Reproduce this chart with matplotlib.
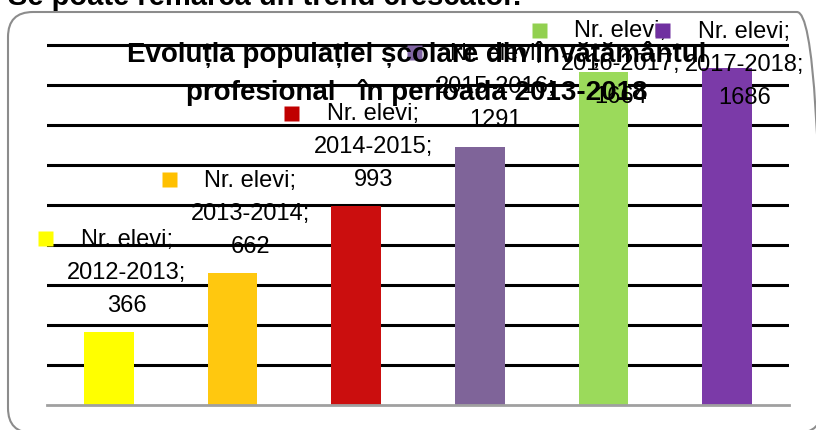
# -*- coding: utf-8 -*-

"""
Evolutia populatiei scolare din invatamantul profesional, 2013-2018.
"""

# %% Imports
import matplotlib
matplotlib.use("Agg")
import matplotlib.pyplot as plt
from matplotlib.patches import FancyBboxPatch
from matplotlib.transforms import IdentityTransform, offset_copy

# %% Data
years = ["2012-2013", "2013-2014", "2014-2015", "2015-2016", "2016-2017", "2017-2018"]
students = [366, 662, 993, 1291, 1664, 1686]
series_name = "Nr. elevi"

# %% Style
bar_colors = ["#FFFF00", "#FFC80F", "#CB0E0E", "#7F6499", "#9BDA5B", "#7B3AA8"]
key_colors = ["#FFFF00", "#FFC000", "#C00000", "#8064A2", "#92D050", "#7030A0"]
# label offsets from bar top, in pixels (x right, y up)
label_dx = [18, 18, 17, 16, 17, 17]
label_dy = [59, 59, 59, 60, 8, 3]
line_gap = 33

plt.rcParams["font.family"] = ["Liberation Sans", "DejaVu Sans"]

W, H = 816, 430
fig = plt.figure(figsize=(W / 100, H / 100), dpi=100)
fig.patch.set_facecolor("white")

# plot area: x 47..789 px, 0 at y=405 px, 1800 at y=45 px
ax = fig.add_axes([47 / W, (H - 405) / H, (789 - 47) / W, (405 - 43) / H])
x = range(len(years))
ax.bar(x, students, width=0.4, color=bar_colors, zorder=2)

ax.set_xlim(-0.5, len(years) - 0.5)
ax.set_ylim(0, 1810)
ax.set_yticks(range(200, 1801, 200))
ax.yaxis.grid(True, color="black", lw=2.2)
ax.set_axisbelow(True)
ax.tick_params(left=False, bottom=False, labelleft=False, labelbottom=False)
for s in ["top", "right", "left"]:
    ax.spines[s].set_visible(False)
ax.spines["bottom"].set_color("#A0A0A0")
ax.spines["bottom"].set_linewidth(2)

# data labels with legend key
for i, (yr, v) in enumerate(zip(years, students)):
    lines = [series_name + ";", yr + ";", str(v)]
    for k, txt in enumerate(lines):
        ax.annotate(txt, xy=(i, v), xytext=(label_dx[i], label_dy[i] + line_gap * (1 - k)),
                    textcoords="offset pixels", ha="center", va="center",
                    fontsize=17, color="black", zorder=4, annotation_clip=False)
    tr = offset_copy(ax.transData, fig=fig, x=label_dx[i] - 82,
                     y=label_dy[i] + line_gap + 1.5, units="dots")
    ax.plot(i, v, marker="s", ms=10.8, color=key_colors[i], mec="none",
            transform=tr, clip_on=False, zorder=4)

# chart title
fig.text(417 / W, 1 - 62 / H, "Evoluția populației școlare din învățământul",
         ha="center", va="baseline", fontsize=20, fontweight="bold", zorder=5)
fig.text(417 / W, 1 - 100 / H, "profesional   în perioada 2013-2018",
         ha="center", va="baseline", fontsize=20, fontweight="bold", zorder=5)

# text above the chart, cut by the top edge
fig.text(8 / W, 1 - 5 / H, "Se poate remarca un trend crescător.",
         ha="left", va="baseline", fontsize=21, fontweight="bold")

# rounded chart frame
frame = FancyBboxPatch((8, -3), 814, 421, boxstyle="round,pad=0,rounding_size=25",
                       transform=IdentityTransform(), fc="none", ec="#8C8C8C", lw=1.5)
fig.add_artist(frame)

fig.savefig("out.png", dpi=100)
